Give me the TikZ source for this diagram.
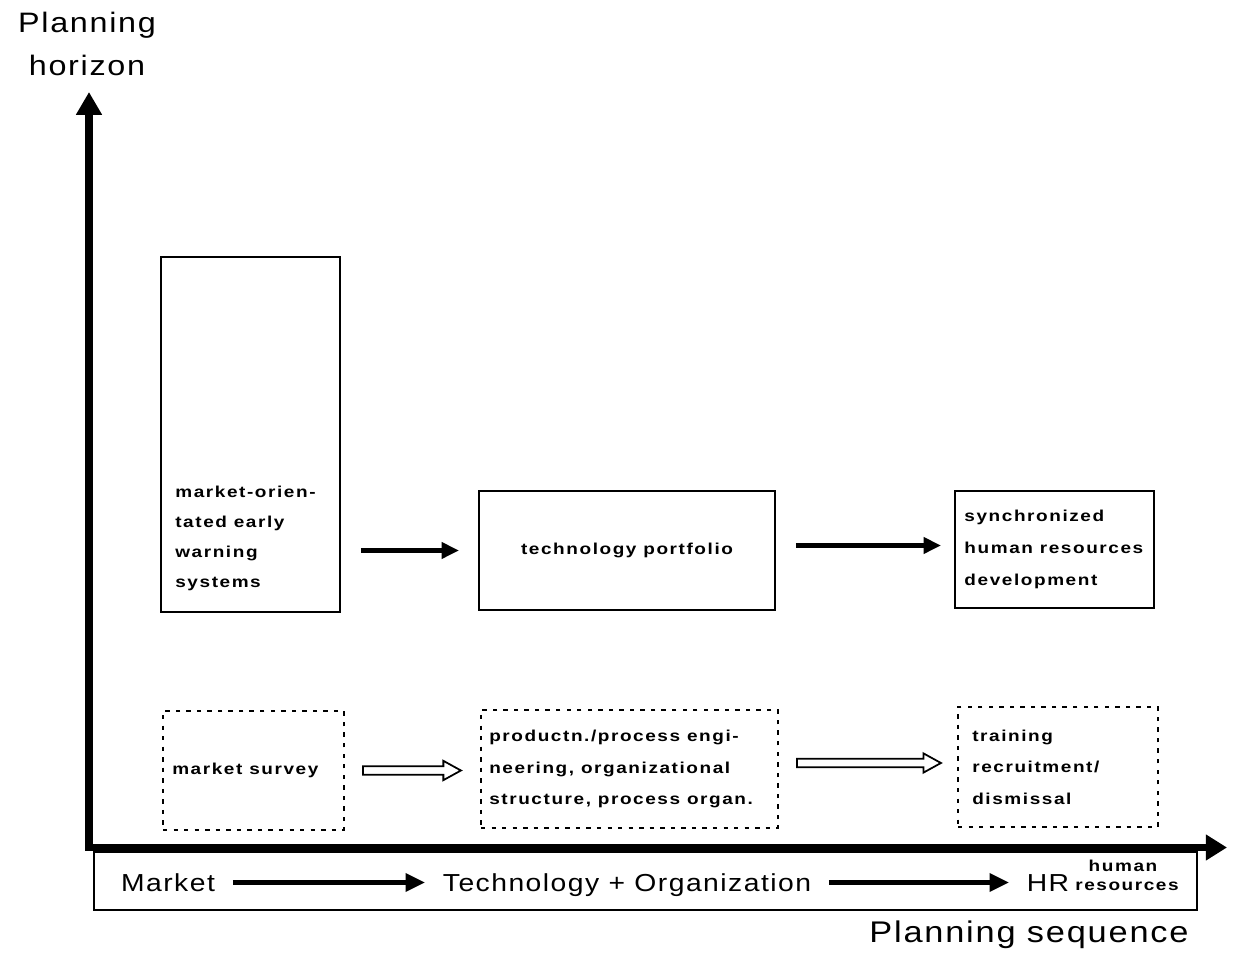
\documentclass[tikz,border=0pt]{standalone}
\usepackage{fontspec}
\setmainfont{Liberation Sans}
\newfontfamily\labelfont[FakeStretch=1.15,LetterSpace=6]{Liberation Sans}
\newfontfamily\boxfont[FakeStretch=1.2,LetterSpace=10]{Liberation Sans}
\newcommand{\boxtxt}{\boxfont\bfseries\fontsize{9}{18}\selectfont}
\usetikzlibrary{arrows.meta}
\usetikzlibrary{calc}
\tikzset{
	axisline/.style={line width=4pt,line join=miter,{Triangle[length=13pt,width=14pt]}-{Triangle[length=12pt,width=14pt]}},
	solidbox/.style={draw,line width=1pt,inner sep=0pt,font=\boxtxt},
	dashbox/.style={draw,line width=1.2pt,dash pattern=on 2.5pt off 3.5pt,inner sep=0pt},
	boxlbl/.style={inner sep=0pt,align=left,anchor=west,font=\boxtxt},
	barlbl/.style={inner ysep=0pt,inner xsep=0.35cm,text height=10pt,text depth=0pt,font=\labelfont\fontsize{14}{16}\selectfont},
	smalllbl/.style={inner sep=0pt,font=\boxtxt},
	flow/.style={line width=2.6pt,-{Triangle[length=10pt,width=9pt]},shorten >=0.38cm,shorten <=0.4cm},
	barflow/.style={line width=2.6pt,-{Triangle[length=11pt,width=10pt]}},
	hollow/.style={line width=1pt,line join=miter,to path={let \p1=(\tikztostart),\p2=(\tikztotarget) in
		(\x1,\y1+2.4pt) -- (\x2-10pt,\y1+2.4pt) -- (\x2-10pt,\y1+5.5pt) -- (\x2,\y1) -- (\x2-10pt,\y1-5.5pt) -- (\x2-10pt,\y1-2.4pt) -- (\x1,\y1-2.4pt) -- cycle}},
	}
\begin{document}
\begin{tikzpicture}
\useasboundingbox (0,0) rectangle (24.68,19.08);

\coordinate (orig) at (1.78,2.13);
\coordinate (ytop) at (1.78,17.24);
\coordinate (xend) at (24.54,2.13);
\draw[axisline] (ytop) -- (orig) -- (xend);

\node (phor) at (1.74,18.2) [align=center,font=\labelfont\fontsize{16}{24}\selectfont] {Planning\\horizon};
\node (pseq) at (20.58,0.24) [anchor=base,font=\labelfont\fontsize{17}{20}\selectfont] {Planning sequence};

% planning sequence bar
\draw[line width=0.8pt] (1.88,0.88) rectangle (23.94,2.04);
\node (mkt) at (3.36,1.43) [barlbl] {Market};
\node (tec) at (12.54,1.43) [barlbl] {Technology + Organization};
\node (hr) at (20.96,1.43) [barlbl] {HR};
\node (hum) at (22.46,1.76) [smalllbl] {human};
\node (res) at (22.54,1.36) [smalllbl] {resources};
\draw[barflow] (mkt) -- (tec);
\draw[barflow] (tec) -- (hr);

% long-term planning
\node (mows) at (5.01,10.39) [solidbox,minimum width=3.58cm,minimum height=7.1cm] {};
\node (mowstxt) at (3.5,8.31) [boxlbl,font=\boxfont\bfseries\fontsize{9}{17}\selectfont] {market-orien-\\tated early\\warning\\systems};
\node (tport) at (12.54,8.07) [solidbox,minimum width=5.92cm,minimum height=2.38cm] {technology portfolio};
\node (hrdev) at (21.09,8.09) [solidbox,minimum width=3.98cm,minimum height=2.34cm] {};
\node (hrdevtxt) at ([xshift=0.2cm]hrdev.west) [boxlbl] {synchronized\\human resources\\development};
\draw[flow] (mows.east |- tport.west) -- (tport.west);
\draw[flow,shorten >=0.26cm] ([yshift=0.1cm]tport.east) -- ([yshift=0.1cm]tport.east -| hrdev.west);

% short-term planning
\node (msurv) at (5.07,3.67) [dashbox,minimum width=3.62cm,minimum height=2.38cm] {};
\node (msurvtxt) at ([xshift=0.2cm]msurv.west) [boxlbl] {market survey};
\node (peng) at (12.59,3.70) [dashbox,minimum width=5.94cm,minimum height=2.36cm] {};
\node (pengtxt) at ([xshift=0.18cm]peng.west) [boxlbl] {productn./process engi-\\neering, organizational\\structure, process organ.};
\node (hrtrain) at (21.16,3.74) [dashbox,minimum width=4cm,minimum height=2.4cm] {};
\node (hrtraintxt) at ([xshift=0.3cm]hrtrain.west) [boxlbl] {training\\recruitment/\\dismissal};
\draw[hollow] ([xshift=0.36cm]msurv.east) to ([xshift=-0.38cm]peng.west);
\draw[hollow] ([xshift=0.36cm,yshift=0.12cm]peng.east) to ([xshift=-0.32cm]hrtrain.west);
\end{tikzpicture}
\end{document}
